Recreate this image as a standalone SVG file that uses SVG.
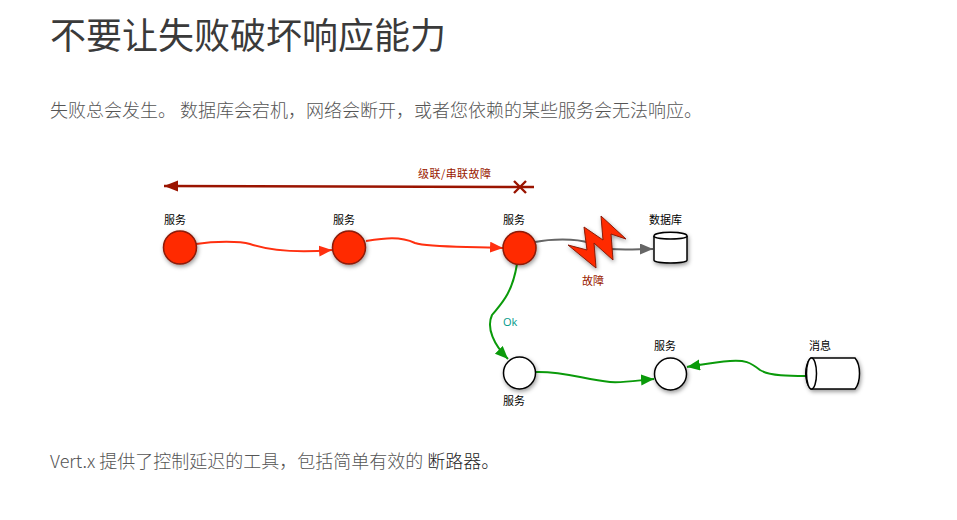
<svg xmlns="http://www.w3.org/2000/svg" width="957" height="520" viewBox="0 0 957 520">
<style>
text{font-family:"Noto Sans CJK SC","Liberation Sans",sans-serif}
.title{font-size:36px;fill:#3a3a3a;font-weight:400}
.body{font-size:18px;fill:#555;font-weight:300}
.link{fill:#222}
.lbl{font-size:11px;fill:#000}
.err{font-size:11px;fill:#9a1a00}
.ok{font-size:11px;fill:#009a8a;font-family:"Open Sans","Liberation Sans",sans-serif}
.red{fill:#ff2a00;stroke:#8a1a08;stroke-width:1.5}
.wht{fill:#fff;stroke:#000;stroke-width:1.5}
.c{fill:none;stroke-width:2}
.r{stroke:#ff3010}.g{stroke:#0a9a0a}.k{stroke:#666}
</style>
<defs>
<filter id="s" x="-30%" y="-30%" width="170%" height="170%"><feDropShadow dx="1" dy="2" stdDeviation="2" flood-color="#000" flood-opacity=".4"/></filter>
<marker id="mr" markerUnits="userSpaceOnUse" markerWidth="14" markerHeight="12" refX="13" refY="5.5" orient="auto"><path d="M0 0L13 5.5L0 11Z" fill="#ff3010"/></marker>
<marker id="mg" markerUnits="userSpaceOnUse" markerWidth="14" markerHeight="12" refX="13" refY="5.5" orient="auto"><path d="M0 0L13 5.5L0 11Z" fill="#0a9a0a"/></marker>
<marker id="mk" markerUnits="userSpaceOnUse" markerWidth="14" markerHeight="12" refX="13" refY="5.5" orient="auto"><path d="M0 0L13 5.5L0 11Z" fill="#666"/></marker>
<marker id="md" markerUnits="userSpaceOnUse" markerWidth="15" markerHeight="12" refX="14" refY="5.5" orient="auto"><path d="M0 0L14 5.5L0 11Z" fill="#9a1400"/></marker>
</defs>
<rect width="957" height="520" fill="#fff"/>
<text class="title" x="50" y="49">不要让失败破坏响应能力</text>
<text class="body" x="50" y="117">失败总会发生。 数据库会宕机，网络会断开，或者您依赖的某些服务会无法响应。</text>
<text class="body" x="50" y="468">Vert.x 提供了控制延迟的工具，包括简单有效的 <tspan class="link">断路器。</tspan></text>
<g id="connectors">
<path class="c r" marker-end="url(#mr)" d="M196 244C215 241 240 241 250 244C268 250 295 253 332 250"/>
<path class="c r" marker-end="url(#mr)" d="M366 241C385 238 400 236 415 243C430 248 470 246 503 248"/>
<path class="c k" d="M535 242C550 239 575 238 590 243"/>
<path class="c k" marker-end="url(#mk)" d="M610 249C625 250 640 249 653 249"/>
<path class="c g" marker-end="url(#mg)" d="M517 264C512 295 500 305 492 315C486 328 494 345 508 359"/>
<path class="c g" marker-end="url(#mg)" d="M535 372C565 371 585 380 610 382C625 383 640 380 654 379"/>
<path class="c g" marker-end="url(#mg)" d="M806 376C790 376 770 376 760 370C750 362 745 360 730 361C715 362 700 365 687 367"/>
<path fill="none" stroke="#9a1400" stroke-width="2.6" marker-end="url(#md)" d="M534 187L164 186"/>
<path fill="none" stroke="#9a1400" stroke-width="2.4" d="M514 181L526 193M526 181L514 193"/>
</g>
<g id="n1"><circle class="red" cx="180" cy="247.5" r="16.5" filter="url(#s)"/><text class="lbl" x="164" y="224">服务</text></g>
<g id="n2"><circle class="red" cx="349" cy="247.5" r="16.5" filter="url(#s)"/><text class="lbl" x="333" y="224">服务</text></g>
<g id="n3"><circle class="red" cx="519.5" cy="248" r="16.5" filter="url(#s)"/><text class="lbl" x="503" y="224">服务</text></g>
<g id="failure"><polygon points="601,216 626,239 611,234 613,260 594,243 596,268 568,245 587,250 584,227 603,240" fill="#ff2a00" stroke="#8a1a08" filter="url(#s)"/><text class="err" x="582" y="285">故障</text></g>
<g id="db"><path class="wht" filter="url(#s)" d="M654 236C654 231 687 231 687 236V260C687 264 654 264 654 260Z"/><path class="wht" fill="none" d="M654 236C654 240 687 240 687 236"/><text class="lbl" x="649" y="224">数据库</text></g>
<g id="n4"><circle class="wht" cx="519.5" cy="373" r="16" filter="url(#s)"/><text class="lbl" x="503" y="405">服务</text></g>
<g id="n5"><circle class="wht" cx="670.5" cy="374" r="16" filter="url(#s)"/><text class="lbl" x="654" y="350">服务</text></g>
<g id="msg"><path class="wht" filter="url(#s)" d="M811 358H855C861 365 861 382 855 389H811C804 382 804 365 811 358Z"/><ellipse class="wht" cx="811.5" cy="373.5" rx="5" ry="15.5"/><text class="lbl" x="809" y="350">消息</text></g>
<text class="err" x="418" y="178" textLength="73">级联/串联故障</text>
<text class="ok" x="503" y="326">Ok</text>
</svg>
